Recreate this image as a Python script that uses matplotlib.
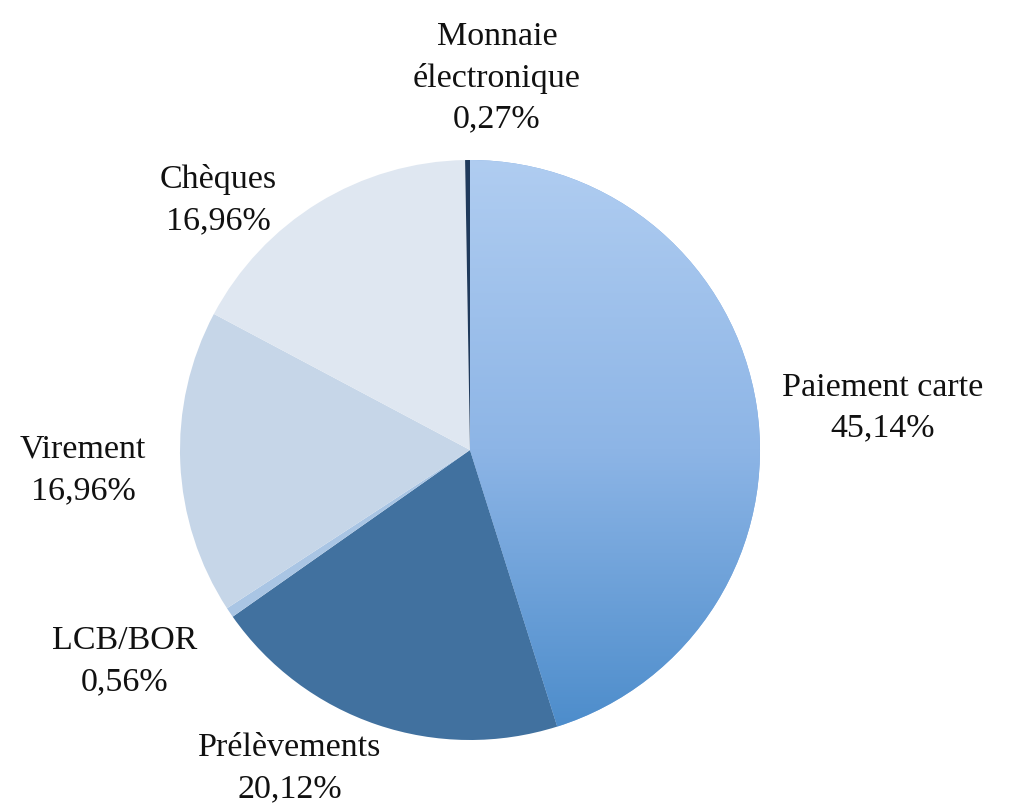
import matplotlib.pyplot as plt
import numpy as np
from matplotlib.colors import LinearSegmentedColormap

plt.rcParams['font.family'] = ['Liberation Serif', 'DejaVu Serif']

# data, clockwise from the top
categories = ["Paiement carte", "Prélèvements", "LCB/BOR", "Virement", "Chèques", "Monnaie\nélectronique"]
shares = [45.14, 20.12, 0.56, 16.96, 16.96, 0.27]
share_labels = ["45,14%", "20,12%", "0,56%", "16,96%", "16,96%", "0,27%"]

colors = ["#7eaae0", "#41719f", "#a9c5e4", "#c6d6e8", "#dfe7f1", "#1f3a5c"]
# where each label block sits (data units, radius = 1)
label_pos = [(1.424, 0.145), (-0.621, -1.097), (-1.190, -0.728),
             (-1.334, -0.069), (-0.869, 0.862), (0.093, 1.283)]

fig = plt.figure(figsize=(10.14, 8.05), dpi=100)
ax = fig.add_axes([0, 0, 1, 1])

wedges, _ = ax.pie(shares, colors=colors, startangle=90, counterclock=False,
                   radius=1, wedgeprops=dict(edgecolor="none"))

# the card slice has a light-to-dark vertical gradient
grad = LinearSegmentedColormap.from_list("carte", ["#b0cdf1", "#8db5e6", "#4a8bca"])
img = ax.imshow(np.linspace(0, 1, 256).reshape(-1, 1), cmap=grad, aspect="auto",
                extent=(0, 1, -1, 1), zorder=wedges[0].get_zorder() + 0.1)
img.set_clip_path(wedges[0])

for name, lab, (x, y) in zip(categories, share_labels, label_pos):
    ax.text(x, y, name + "\n" + lab, ha="center", va="center",
            fontsize=24.5, linespacing=1.45, color="#111111")

ax.set_xlim(-470 / 290, 544 / 290)
ax.set_ylim(-355 / 290, 450 / 290)
ax.set_aspect("auto")
ax.axis("off")

fig.savefig("out.png", dpi=100, facecolor="white")
